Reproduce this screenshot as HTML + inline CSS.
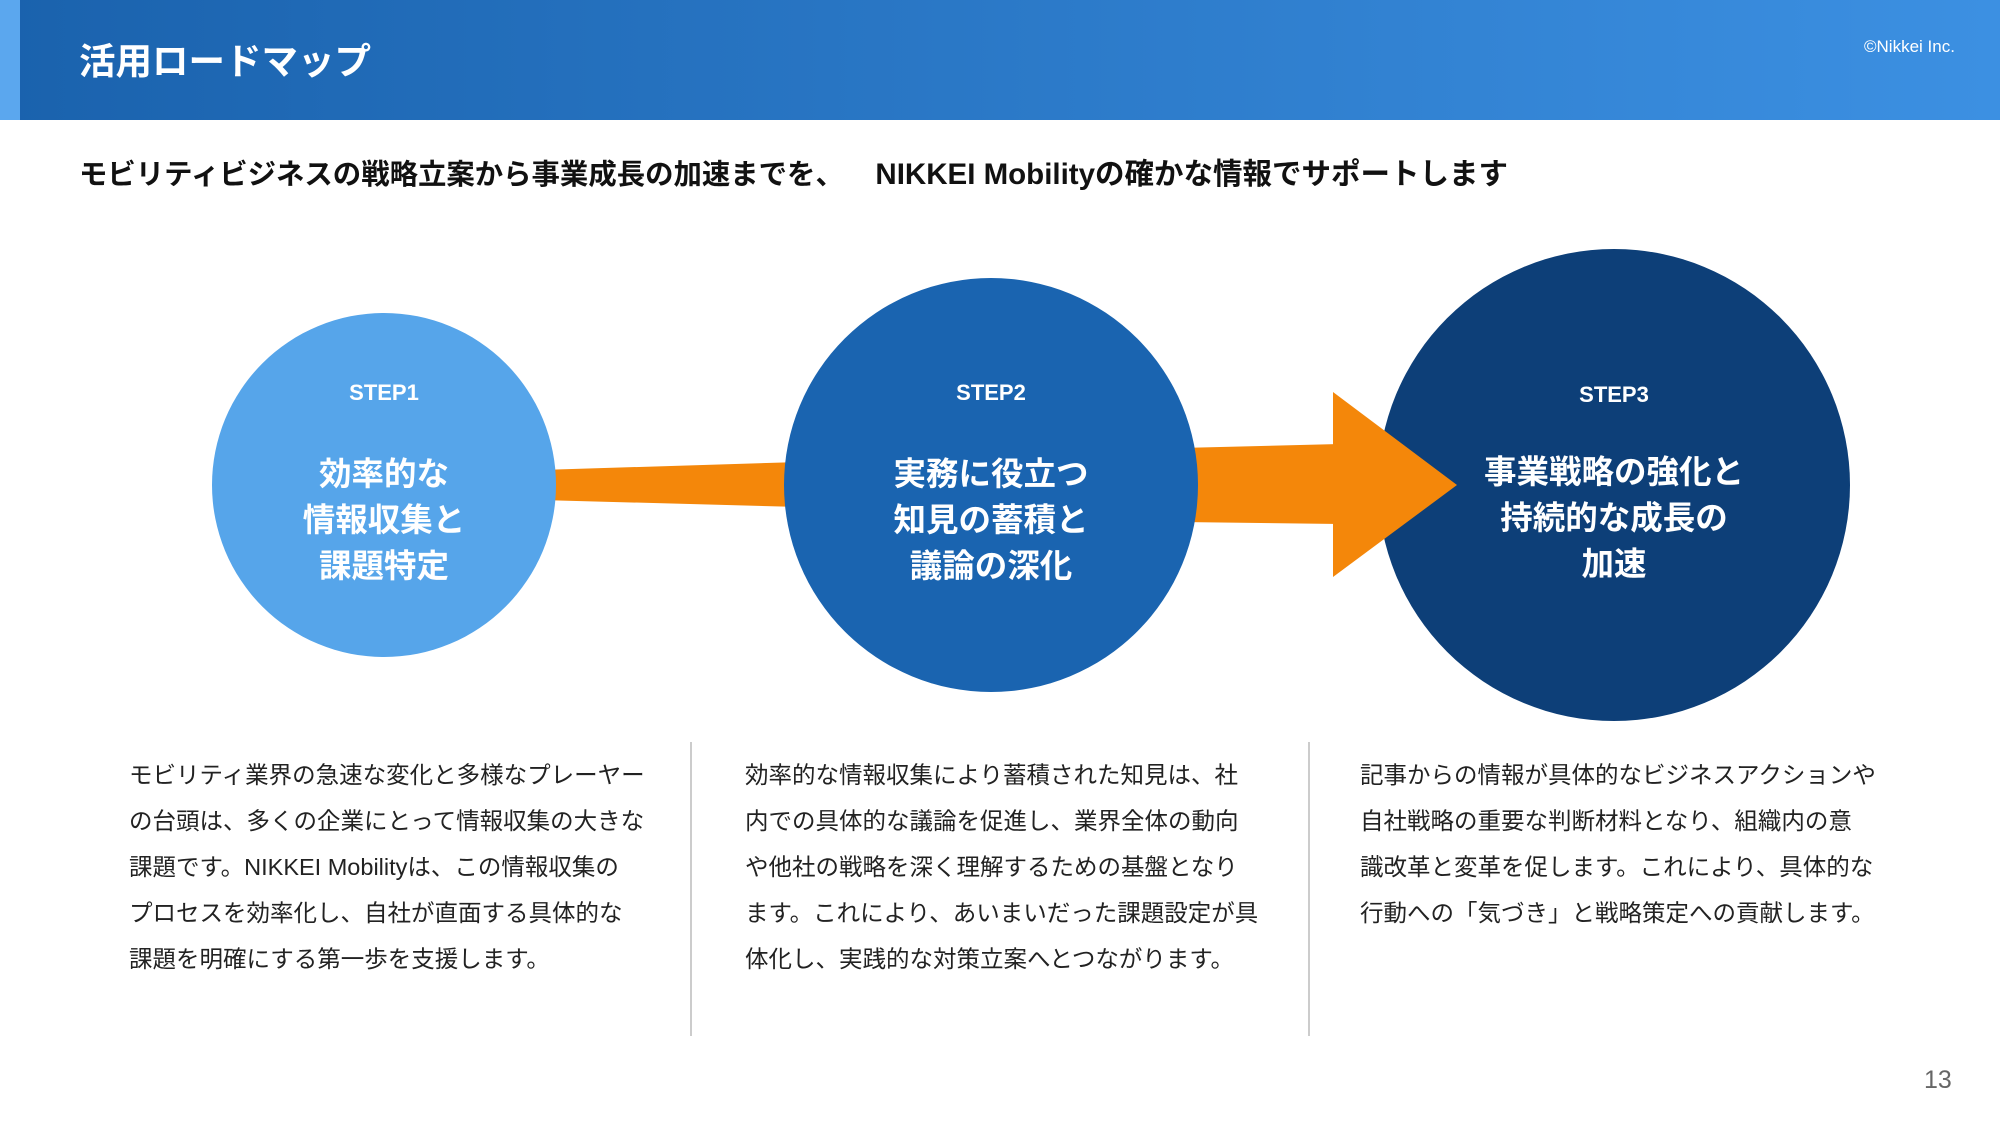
<!DOCTYPE html>
<html><head><meta charset="utf-8"><style>
body{margin:0;width:2000px;height:1125px;position:relative;overflow:hidden;background:#fff;font-family:"Liberation Sans","Noto Sans CJK JP",sans-serif;}
.hdr{position:absolute;left:0;top:0;width:2000px;height:120px;background:linear-gradient(90deg,#1a62ad,#3c90e2);}
.strip{position:absolute;left:0;top:0;width:20px;height:120px;background:#5ba7ee;}
.title{position:absolute;left:79px;top:32px;font-size:36.5px;font-weight:bold;color:#fff;}
.copy{position:absolute;left:1864px;top:37px;font-size:17px;color:#fff;}
.sub{position:absolute;left:79px;top:151px;font-size:28.4px;font-weight:bold;color:#111;white-space:pre;}
.sub span{font-size:29.5px;}
.ct{position:absolute;text-align:center;color:#fff;}
.st{font-size:22px;font-weight:bold;}
.big{font-size:32.5px;font-weight:bold;line-height:46px;}
.col{position:absolute;top:752px;font-size:23.5px;line-height:46px;color:#222;white-space:nowrap;}
.div{position:absolute;top:742px;width:2px;height:294px;background:#ccc;}
.pg{position:absolute;left:1924px;top:1066px;font-size:25px;color:#666;}
</style></head><body>
<div class="hdr"></div><div class="strip"></div>
<div class="title">活用ロードマップ</div>
<div class="copy">©Nikkei Inc.</div>
<div class="sub">モビリティビジネスの戦略立案から事業成長の加速までを、    <span>NIKKEI Mobilityの確かな情報でサポートします</span></div>
<svg width="2000" height="1125" style="position:absolute;left:0;top:0">
<polygon points="540,470 800,462 800,507 540,500" fill="#f4870a"/>
<circle cx="384" cy="485" r="172" fill="#56a5ea"/>
<polygon points="1180,448 1340,444 1340,524 1180,522" fill="#f4870a"/>
<circle cx="991" cy="485" r="207" fill="#1a64b0"/>
<circle cx="1614" cy="485" r="236" fill="#0d3f78"/>
<polygon points="1333,392 1457,485 1333,577" fill="#f4870a"/>
</svg>
<div class="ct" style="left:234px;width:300px;top:380px"><div class="st">STEP1</div><div class="big" style="margin-top:45px">効率的な<br>情報収集と<br>課題特定</div></div>
<div class="ct" style="left:841px;width:300px;top:380px"><div class="st">STEP2</div><div class="big" style="margin-top:45px">実務に役立つ<br>知見の蓄積と<br>議論の深化</div></div>
<div class="ct" style="left:1414px;width:400px;top:382px"><div class="st">STEP3</div><div class="big" style="margin-top:41px">事業戦略の強化と<br>持続的な成長の<br>加速</div></div>
<div class="col" style="left:129px">モビリティ業界の急速な変化と多様なプレーヤー<br>の台頭は、多くの企業にとって情報収集の大きな<br>課題です。NIKKEI Mobilityは、この情報収集の<br>プロセスを効率化し、自社が直面する具体的な<br>課題を明確にする第一歩を支援します。</div>
<div class="div" style="left:690px"></div>
<div class="col" style="left:745px">効率的な情報収集により蓄積された知見は、社<br>内での具体的な議論を促進し、業界全体の動向<br>や他社の戦略を深く理解するための基盤となり<br>ます。これにより、あいまいだった課題設定が具<br>体化し、実践的な対策立案へとつながります。</div>
<div class="div" style="left:1308px"></div>
<div class="col" style="left:1360px">記事からの情報が具体的なビジネスアクションや<br>自社戦略の重要な判断材料となり、組織内の意<br>識改革と変革を促します。これにより、具体的な<br>行動への「気づき」と戦略策定への貢献します。</div>
<div class="pg">13</div>
</body></html>
